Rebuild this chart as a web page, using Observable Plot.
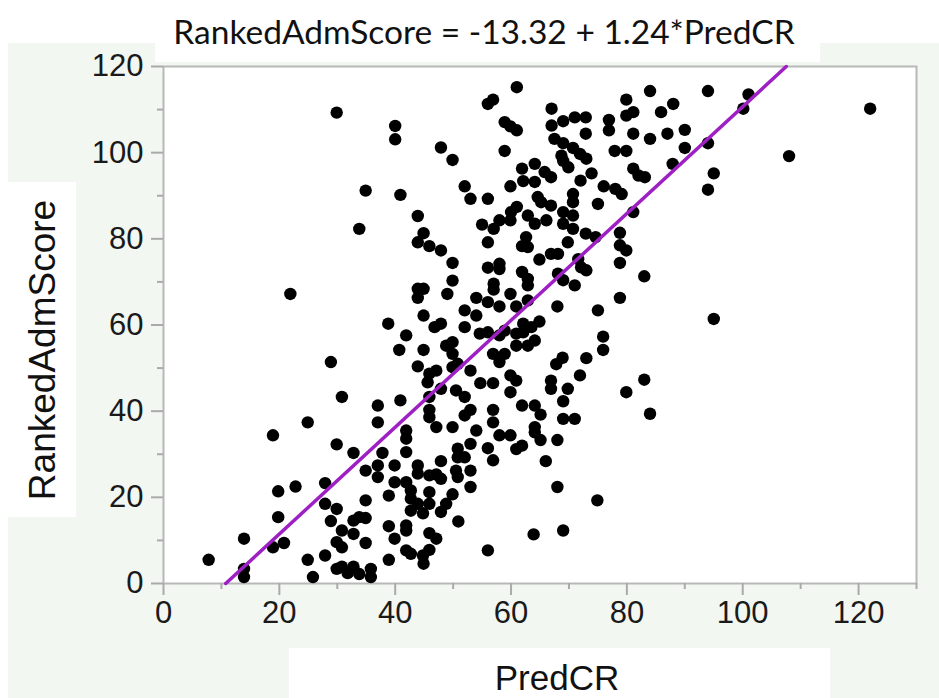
<!DOCTYPE html>
<html>
<head>
<meta charset="utf-8">
<script src="https://cdn.jsdelivr.net/npm/d3@7"></script>
<script src="https://cdn.jsdelivr.net/npm/@observablehq/plot@0.6"></script>
<style>
  html, body { margin: 0; padding: 0; background: #fff; }
  #wrap { position: relative; width: 939px; height: 698px; overflow: hidden; background: #fff; }
  .box { position: absolute; }
  #bg { left: 8px; top: 43px; right: 0; bottom: 0; background: #f2f7f2; }
  #tbox { left: 155px; top: 0; width: 665px; height: 62px; background: #fff; }
  #ybox { left: 8px; top: 182px; width: 68px; height: 335px; background: #fff; }
  #xbox { left: 289px; top: 648px; width: 541px; height: 50px; background: #fff; }
  #chart { position: absolute; left: 0; top: 0; }
  .lab { position: absolute; white-space: nowrap; color: #111; line-height: 1; }
  #title { left: 484px; top: 32px; transform: translate(-50%, -50%); font-family: Lato, "Open Sans", sans-serif; font-size: 33.5px; }
  #ylab { left: 42px; top: 350px; transform: translate(-50%, -50%) rotate(-90deg); font-family: "Liberation Sans", Arial, sans-serif; font-size: 37px; }
  #xlab { left: 557px; top: 677px; transform: translate(-50%, -50%); font-family: "Liberation Sans", Arial, sans-serif; font-size: 35px; }
</style>
</head>
<body>
<div id="wrap">
  <div class="box" id="bg"></div>
  <div class="box" id="tbox"></div>
  <div class="box" id="ybox"></div>
  <div class="box" id="xbox"></div>
  <div id="chart"></div>
  <div class="lab" id="title">RankedAdmScore = -13.32 + 1.24*PredCR</div>
  <div class="lab" id="ylab">RankedAdmScore</div>
  <div class="lab" id="xlab">PredCR</div>
</div>
<script>
const predCR = [
  29.9,40.0,40.0,47.9,49.9,56.0,56.9,61.0,58.9,59.9,61.0,58.9,61.9,62.1,59.9,52.0,53.0,56.0,60.0,61.0,
  34.9,40.9,33.8,43.9,44.9,43.9,45.9,47.9,55.0,57.0,58.0,59.9,56.0,61.9,49.9,56.0,58.0,58.0,61.9,49.9,
  57.0,57.0,43.9,44.9,43.9,49.0,54.0,56.0,58.0,59.9,60.9,52.0,54.0,21.9,44.9,38.8,47.9,62.1,
  67.0,67.0,69.0,71.0,72.9,72.9,76.9,76.9,79.9,79.9,81.1,81.1,84.0,85.9,88.0,84.0,87.0,90.0,90.0,94.0,
  101.0,100.1,94.0,122.0,108.0,95.0,94.0,87.9,67.5,69.0,70.7,71.9,73.0,68.7,69.0,69.9,65.8,66.9,64.1,64.1,
  72.0,73.9,77.9,79.9,81.1,82.0,83.1,76.0,78.0,79.1,75.0,70.7,70.7,81.1,64.6,65.2,66.9,69.0,70.7,62.9,
  64.1,66.1,69.0,70.7,72.9,74.6,78.8,78.8,79.9,78.8,83.0,62.6,62.9,69.8,64.9,66.9,68.1,71.6,72.1,73.0,
  62.9,62.9,68.1,69.0,71.0,78.8,75.0,68.0,62.9,64.9,95.0,
  46.8,52.0,54.6,56.0,58.0,58.9,60.9,62.1,41.9,40.7,44.9,48.8,49.9,49.9,56.9,58.9,58.0,60.9,28.9,43.9,
  45.9,47.1,49.9,50.8,53.0,45.6,47.9,54.7,56.9,59.9,60.9,59.9,50.5,52.0,45.9,30.8,37.0,40.9,45.9,45.9,
  47.1,52.0,53.0,56.9,56.9,61.9,49.9,54.0,58.0,59.9,61.9,60.9,56.0,56.9,24.9,37.0,41.9,41.9,41.9,18.9,
  29.9,32.8,37.8,34.9,37.0,37.0,39.9,43.9,43.9,45.9,47.9,47.1,47.9,50.8,50.8,52.0,53.0,50.5,50.8,53.0,
  53.0,39.9,41.9,42.7,42.7,45.9,49.9,43.9,45.9,48.8,47.9,42.7,44.8,50.9,38.9,34.9,27.9,19.8,22.8,19.8,
  27.9,29.9,28.9,32.8,33.8,34.9,30.8,32.8,34.9,38.9,39.9,41.9,41.9,45.9,47.1,13.9,20.8,18.9,29.9,30.8,
  41.9,42.7,44.8,45.9,44.9,56.0,7.8,13.9,13.9,24.9,25.8,27.9,29.9,30.8,31.8,32.8,33.8,35.8,35.8,38.9,
  64.1,62.9,75.9,75.9,67.8,68.9,73.0,71.9,66.9,66.9,69.8,83.0,79.9,84.0,69.0,64.1,65.1,69.0,71.0,64.1,
  64.1,65.1,68.0,66.0,68.0,74.9,63.9,69.0,63.5
];
const rankedAdmScore = [
  109.3,106.2,103.1,101.2,98.3,111.3,112.3,115.2,107.1,106.1,105.2,100.4,96.3,93.4,92.2,92.2,89.3,89.3,86.2,87.4,
  91.2,90.2,82.3,85.3,81.3,79.2,78.3,77.3,83.3,82.3,84.3,84.3,79.2,78.3,74.4,73.3,74.2,73.0,72.3,70.3,
  69.6,68.2,68.4,68.4,66.3,67.2,66.3,65.3,64.3,67.2,64.3,63.4,62.2,67.2,62.2,60.3,60.3,60.3,
  110.2,106.3,107.3,108.2,108.2,104.4,107.6,105.2,112.3,108.6,109.4,104.4,114.3,109.4,111.3,103.2,104.4,105.3,101.1,114.3,
  113.5,110.2,102.2,110.2,99.2,95.2,91.4,97.4,103.2,102.2,101.1,99.7,98.6,99.3,98.1,96.6,95.5,94.3,97.4,93.2,
  93.5,95.2,100.4,100.4,96.3,94.7,94.3,92.2,91.6,90.4,88.1,90.4,88.5,86.2,89.7,88.5,87.7,86.2,85.4,85.4,
  83.5,84.3,83.5,82.3,81.2,80.4,81.4,78.5,77.3,74.4,71.3,80.4,78.1,79.2,75.2,76.5,76.5,75.3,73.4,72.7,
  70.7,69.2,71.9,70.4,69.2,66.3,63.4,64.3,65.7,60.8,61.4,
  59.5,59.5,58.0,58.3,57.6,58.7,58.0,58.3,57.6,54.2,54.2,55.2,56.0,53.3,53.3,53.3,51.4,55.2,51.4,50.4,
  48.7,49.4,50.2,51.0,49.4,46.7,45.2,46.5,46.5,48.3,47.1,44.4,44.8,43.3,43.3,43.3,41.3,42.5,40.3,38.6,
  36.3,39.0,40.3,40.3,37.4,41.3,36.3,35.5,34.4,34.4,32.0,31.2,31.4,28.6,37.4,37.4,35.5,33.6,30.5,34.4,
  32.3,30.3,30.3,26.2,27.4,24.7,27.4,27.4,25.5,25.1,28.4,25.3,24.3,31.3,29.3,29.3,32.4,26.2,24.7,26.2,
  22.4,23.5,23.5,21.6,19.7,21.2,20.7,18.5,18.5,18.5,16.6,16.9,16.3,14.4,20.4,19.3,23.3,21.4,22.5,15.4,
  18.5,17.3,14.5,14.6,15.4,15.2,12.3,11.5,9.4,13.3,10.4,13.5,12.3,11.7,10.4,10.4,9.4,8.4,9.6,8.4,
  7.7,6.9,6.5,7.8,4.6,7.7,5.5,3.4,1.5,5.5,1.5,6.5,3.4,3.9,2.4,3.9,2.2,3.4,1.5,5.5,
  56.4,55.2,57.3,54.2,50.9,52.4,52.3,48.3,47.1,45.2,45.2,47.3,44.4,39.4,42.3,41.3,39.2,38.2,38.2,36.3,
  35.1,33.3,33.3,28.4,22.4,19.3,11.4,12.3,59.5
];

// Axis settings
const xDomain = [0, 130];
const yDomain = [0, 120];
const xMajor = [0, 20, 40, 60, 80, 100, 120];
const xMinor = [10, 30, 50, 70, 90, 110, 130];
const yMajor = [0, 20, 40, 60, 80, 100, 120];
const yMinor = [10, 30, 50, 70, 90, 110];

// Fitted line from the title: RankedAdmScore = -13.32 + 1.24*PredCR
const intercept = -13.32;
const slope = 1.24;

const points = predCR.map((x, i) => ({x, y: rankedAdmScore[i]}));
const fit = yDomain.map(y => ({x: (y - intercept) / slope, y}));

const tickColor = "#aaaaaa";
const chart = Plot.plot({
  width: 939,
  height: 698,
  marginLeft: 163,
  marginRight: 23,
  marginTop: 66,
  marginBottom: 115,
  x: {domain: xDomain},
  y: {domain: yDomain},
  style: {background: "transparent", fontFamily: "'Liberation Sans', Arial, sans-serif", color: "#1a1a1a"},
  marks: [
    Plot.frame({fill: "white", stroke: "#b8b8b8", strokeWidth: 2}),
    Plot.axisY({ticks: yMajor, tickSize: 12, tickPadding: 8, fontSize: 31, stroke: tickColor, strokeWidth: 2, fill: "#1a1a1a", label: null, tickFormat: d => String(d)}),
    Plot.axisY({ticks: yMinor, tickSize: 6, stroke: tickColor, strokeWidth: 2, text: null, label: null}),
    Plot.axisX({ticks: xMajor, tickSize: 12, tickPadding: 5, fontSize: 31, stroke: tickColor, strokeWidth: 2, fill: "#1a1a1a", label: null, tickFormat: d => String(d)}),
    Plot.axisX({ticks: xMinor, tickSize: 6, stroke: tickColor, strokeWidth: 2, text: null, label: null}),
    Plot.dot(points, {x: "x", y: "y", r: 6.2, fill: "#000", stroke: "none"}),
    Plot.line(fit, {x: "x", y: "y", stroke: "#9e1fc4", strokeWidth: 3.5})
  ]
});
document.getElementById("chart").appendChild(chart);
</script>
</body>
</html>
